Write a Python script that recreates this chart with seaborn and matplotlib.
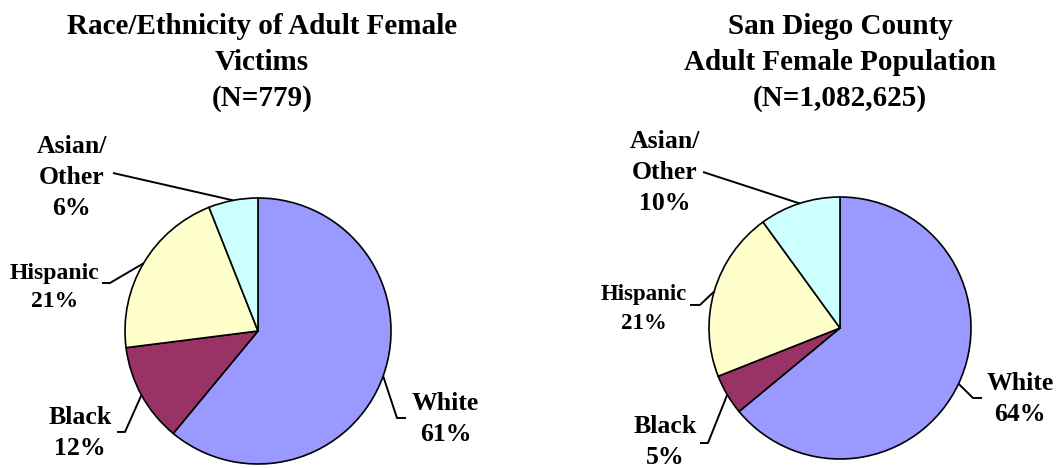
import matplotlib
matplotlib.use("Agg")
import matplotlib.pyplot as plt
import numpy as np
import seaborn as sns

# Data
categories = ["White", "Black", "Hispanic", "Asian/\nOther"]
victim_pct = [61, 12, 21, 6]
county_pct = [64, 5, 21, 10]
victim_title = "Race/Ethnicity of Adult Female\nVictims\n(N=779)"
county_title = "San Diego County\nAdult Female Population\n(N=1,082,625)"

slice_colors = ["#9999FF", "#993366", "#FFFFCC", "#CCFFFF"]

sns.set_theme(style="white")
plt.rcParams["font.family"] = ["Liberation Serif", "DejaVu Serif"]
plt.rcParams["font.weight"] = "bold"
plt.rcParams["text.color"] = "black"

W, H = 1058, 468
fig = plt.figure(figsize=(W / 100, H / 100), dpi=100)
fig.patch.set_facecolor("white")

# label layout in pie-radius units: text centre, line end near text, elbow end
victim_layout = {
    "White": dict(text=(1.41, -0.66), end=(1.113, -0.654), elbow=(1.045, -0.654), size=18.5),
    "Black": dict(text=(-1.34, -0.77), end=(-1.06, -0.759), elbow=(-1.0, -0.759), size=18.5),
    "Hispanic": dict(text=(-1.53, 0.33), end=(-1.173, 0.361), elbow=(-1.113, 0.361), size=17),
    "Asian/\nOther": dict(text=(-1.40, 1.155), end=(-1.09, 1.188), elbow=None, size=18.5),
}
county_layout = {
    "White": dict(text=(1.374, -0.545), end=(1.084, -0.534), elbow=(1.015, -0.534), size=18.5),
    "Black": dict(text=(-1.336, -0.87), end=(-1.069, -0.878), elbow=(-1.008, -0.878), size=18.5),
    "Hispanic": dict(text=(-1.50, 0.145), end=(-1.145, 0.176), elbow=(-1.069, 0.176), size=16.5),
    "Asian/\nOther": dict(text=(-1.336, 1.19), end=(-1.046, 1.191), elbow=None, size=18.5),
}


def draw_pie(rect_px, centre_px, radius_px, values, layout, title, title_x):
    x0, x1 = rect_px
    ax = fig.add_axes([x0 / W, 0, (x1 - x0) / W, 1])
    wedges, _ = ax.pie(
        values,
        colors=slice_colors,
        startangle=90,
        counterclock=False,
        radius=1,
        wedgeprops=dict(edgecolor="black", linewidth=1.2),
    )
    cx, cy = centre_px
    cy_up = H - cy
    ax.set_aspect("auto")
    ax.set_xlim((x0 - cx) / radius_px, (x1 - cx) / radius_px)
    ax.set_ylim(-cy_up / radius_px, (H - cy_up) / radius_px)
    ax.axis("off")

    for wedge, name, val in zip(wedges, categories, values):
        lay = layout[name]
        mid = np.deg2rad((wedge.theta1 + wedge.theta2) / 2)
        pts = [(np.cos(mid), np.sin(mid))]
        if lay["elbow"] is not None:
            pts.append(lay["elbow"])
        pts.append(lay["end"])
        xs, ys = zip(*pts)
        ax.plot(xs, ys, color="black", linewidth=1.4, solid_capstyle="butt")
        ax.text(*lay["text"], f"{name}\n{val}%", ha="center", va="center",
                fontsize=lay["size"], fontweight="bold", linespacing=1.45,
                color="black")

    fig.text(title_x / W, 1 - 13 / H, title, ha="center", va="top",
             fontsize=21, fontweight="bold", linespacing=1.42, color="black")


draw_pie((0, 529), (258, 331), 133, victim_pct, victim_layout, victim_title, 262)
draw_pie((529, 1058), (840, 328), 131, county_pct, county_layout, county_title, 840)

fig.savefig("out.png", dpi=100, facecolor="white")
